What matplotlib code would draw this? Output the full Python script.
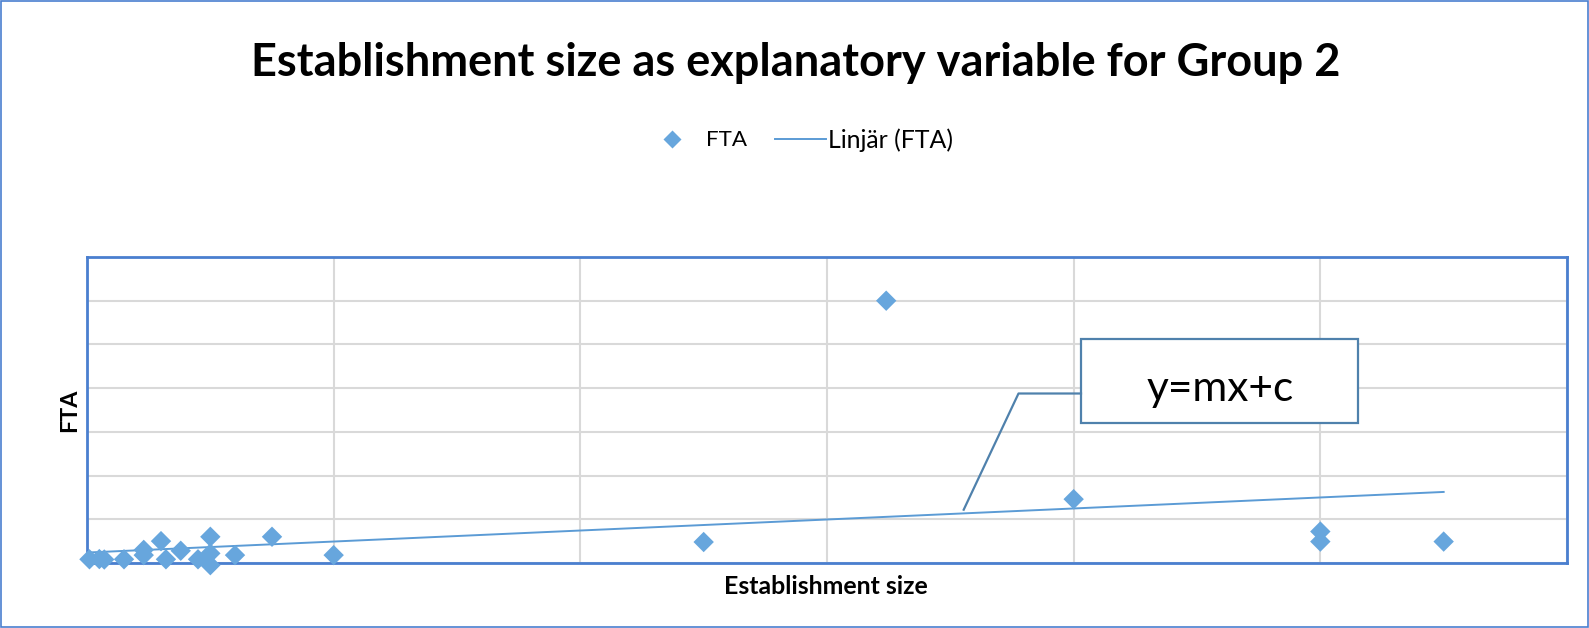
import numpy as np
import matplotlib
matplotlib.use("Agg")
import matplotlib.pyplot as plt
from matplotlib.lines import Line2D
from matplotlib.patches import Rectangle

# ---------------- data ----------------
establishment_size = [1, 5, 7, 15, 23, 23, 30, 32, 38, 45, 50, 50, 50, 60, 75, 100,
                      250, 324, 400, 500, 500, 550]
fta = [0.85, 0.9, 0.8, 0.85, 3.0, 1.8, 5.0, 0.85, 2.8, 0.85, 6.0, 2.2, -0.5, 1.8, 6.0, 1.8,
       4.8, 60.0, 14.6, 7.2, 4.9, 4.9]
x_grid = [0, 100, 200, 300, 400, 500, 600]
y_grid = [0, 10, 20, 30, 40, 50, 60, 70]

title = "Establishment size as explanatory variable for Group 2"
x_label = "Establishment size"
y_label = "FTA"
series_name = "FTA"
trend_name = "Linjär (FTA)"
callout_text = "y=mx+c"

# ---------------- styling ----------------
plt.rcParams['font.family'] = ['Lato', 'DejaVu Sans']
W, H = 1589, 628
fig = plt.figure(figsize=(W / 100, H / 100), dpi=100)
renderer = fig.canvas.get_renderer()

point_color = "#67A6DD"
line_color = "#5B9BD5"
frame_color = "#4A7FCF"
callout_color = "#4F81AC"
grid_color = "#D9D9D9"


def fx(px):
    return px / W


def fy(py):
    return 1 - py / H


def fit_text(x, y, s, width_px, size0=12, vertical=False, **kw):
    t = fig.text(fx(x), fy(y), s, fontsize=size0, **kw)
    bb = t.get_window_extent(renderer=renderer)
    w = bb.height if vertical else bb.width
    t.set_fontsize(size0 * width_px / w)
    return t


# outer chart border
fig.add_artist(Rectangle((fx(1), fy(627)), fx(1587), (626) / H, transform=fig.transFigure,
                         fill=False, edgecolor=frame_color, linewidth=1.2))

# ---------------- axes ----------------
ax = fig.add_axes([fx(87), fy(563), (1567 - 87) / W, (563 - 257) / H])
ax.set_xlim(x_grid[0], x_grid[-1])
ax.set_ylim(y_grid[0], y_grid[-1])
ax.set_xticks(x_grid)
ax.set_yticks(y_grid)
ax.tick_params(length=0, labelbottom=False, labelleft=False)
ax.grid(True, color=grid_color, linewidth=1.5)
ax.set_axisbelow(True)
for sp in ax.spines.values():
    sp.set_color(frame_color)
    sp.set_linewidth(2.0)

ax.scatter(establishment_size, fta, marker='D', s=108, color=point_color,
           edgecolors='none', zorder=3, clip_on=False)

coef = np.polyfit(establishment_size, fta, 1)
xs = np.array([min(establishment_size), max(establishment_size)])
ax.plot(xs, np.polyval(coef, xs), color=line_color, linewidth=1.4, zorder=2)

# ---------------- texts ----------------
fit_text(795.5, 63, title, 1081, weight='bold', ha='center', va='center')
fit_text(826, 586, x_label, 203, weight='bold', ha='center', va='center')
fit_text(69.7, 410, y_label, 43, vertical=True, weight='bold', rotation=90,
         ha='center', va='center')

# legend (manual, Excel-like)
fig.add_artist(Line2D([fx(672)], [fy(139)], marker='D', markersize=9, color=point_color,
                      markeredgecolor='none', linestyle='none', transform=fig.transFigure))
fit_text(706, 140, series_name, 41, ha='left', va='center')
fig.add_artist(Line2D([fx(775), fx(826)], [fy(139), fy(139)], color=line_color,
                      linewidth=1.4, transform=fig.transFigure))
fit_text(828, 140, trend_name, 125, ha='left', va='center')

# callout
fig.add_artist(Line2D([fx(963.7), fx(1018.5), fx(1081)], [fy(509.7), fy(393.5), fy(393.5)],
                      color=callout_color, linewidth=1.6, transform=fig.transFigure))
fig.add_artist(Rectangle((fx(1081), fy(422.7)), (1357.7 - 1081) / W, (422.7 - 339.3) / H,
                         transform=fig.transFigure, facecolor='white',
                         edgecolor=callout_color, linewidth=1.6))
fit_text(1220, 401, callout_text, 147, ha='center', va='baseline')

fig.savefig("out.png", dpi=100)
